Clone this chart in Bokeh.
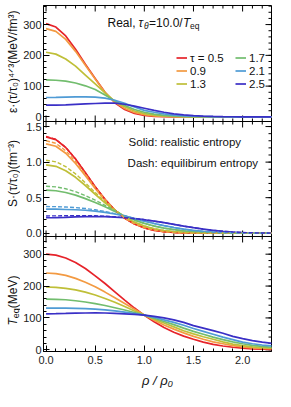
import math
from bokeh.plotting import figure
from bokeh.layouts import row
from bokeh.models import Range1d, FixedTicker, Label, Legend, LegendItem, Span
from bokeh.embed import file_html
from bokeh.resources import INLINE

# ---------------- data ----------------
rho = [0.0, 0.1, 0.2, 0.3, 0.4, 0.5, 0.6, 0.7, 0.8, 0.9, 1.0, 1.1,
       1.2, 1.3, 1.4, 1.5, 1.6, 1.7, 1.8, 1.9, 2.0, 2.1, 2.2, 2.3]
tau_labels = ["τ = 0.5", "0.9", "1.3", "1.7", "2.1", "2.5"]

# energy density * (tau/tau0)^(4/3)  [MeV/fm^3]
eps_05 = [303, 292, 263, 220, 171, 124.5, 80, 46, 24, 11, 4.5, 1.7, 0.6, 0.2, 0.05, 0, 0, 0, 0, 0, 0, 0, 0, 0]
eps_09 = [287, 278, 252, 213, 168, 123, 79, 48, 27, 14.5, 7, 3.2, 1.4, 0.6, 0.2, 0.1, 0, 0, 0, 0, 0, 0, 0, 0]
eps_13 = [210, 204, 188, 165, 136, 107, 78, 50, 33, 19, 10.5, 5.5, 2.8, 1.3, 0.6, 0.3, 0.1, 0, 0, 0, 0, 0, 0, 0]
eps_17 = [120, 119, 116, 110, 101, 89, 71, 52, 37, 24, 15, 9, 5, 3, 1.6, 0.8, 0.4, 0.2, 0.1, 0, 0, 0, 0, 0]
eps_21 = [63, 63.3, 64.2, 65, 65.2, 64, 61, 54, 44, 32, 21, 15, 9.5, 6, 3.6, 2.1, 1.2, 0.7, 0.4, 0.2, 0.1, 0, 0, 0]
eps_25 = [38, 38.3, 39, 40.5, 42, 43.5, 44.5, 44.5, 41, 35, 28, 21, 15, 10, 6.5, 4, 2.5, 1.5, 0.9, 0.5, 0.3, 0.2, 0.1, 0.05]

# entropy density * (tau/tau0), solid = realistic  [fm^-3]
s_05 = [1.355, 1.316, 1.206, 1.043, 0.851, 0.655, 0.476, 0.326, 0.211, 0.129, 0.074, 0.040, 0.021, 0.010, 0.0045, 0.002, 0.001, 0, 0, 0, 0, 0, 0, 0]
s_09 = [1.257, 1.223, 1.125, 0.980, 0.808, 0.630, 0.465, 0.325, 0.215, 0.1345, 0.079, 0.044, 0.0235, 0.0118, 0.0056, 0.0025, 0.001, 0, 0, 0, 0, 0, 0, 0]
s_13 = [0.962, 0.941, 0.879, 0.786, 0.671, 0.548, 0.428, 0.320, 0.228, 0.156, 0.102, 0.063, 0.038, 0.0216, 0.0118, 0.006, 0.003, 0.0015, 0.0007, 0, 0, 0, 0, 0]
s_17 = [0.605, 0.597, 0.573, 0.536, 0.487, 0.432, 0.372, 0.305, 0.240, 0.185, 0.138, 0.101, 0.072, 0.050, 0.034, 0.022, 0.014, 0.009, 0.0055, 0.003, 0.0018, 0.001, 0.0005, 0.0003]
s_21 = [0.338, 0.338, 0.334, 0.330, 0.323, 0.311, 0.293, 0.270, 0.245, 0.205, 0.170, 0.137, 0.107, 0.080, 0.057, 0.039, 0.026, 0.016, 0.010, 0.006, 0.003, 0.002, 0.001, 0.0005]
s_25 = [0.218, 0.220, 0.224, 0.230, 0.233, 0.235, 0.233, 0.227, 0.218, 0.206, 0.190, 0.170, 0.148, 0.124, 0.100, 0.078, 0.058, 0.041, 0.027, 0.017, 0.010, 0.006, 0.003, 0.002]

# dashed = equilibrium entropy
seq_05 = [1.36, 1.32, 1.209, 1.045, 0.852, 0.655, 0.476, 0.326, 0.211, 0.129, 0.074, 0.040, 0.021, 0.010, 0.0045, 0.002, 0.001, 0, 0, 0, 0, 0, 0, 0]
seq_09 = [1.30, 1.264, 1.160, 1.008, 0.828, 0.642, 0.471, 0.327, 0.215, 0.1345, 0.079, 0.044, 0.0235, 0.0118, 0.0056, 0.0025, 0.001, 0, 0, 0, 0, 0, 0, 0]
seq_13 = [1.027, 1.004, 0.937, 0.834, 0.708, 0.574, 0.444, 0.328, 0.232, 0.157, 0.102, 0.063, 0.038, 0.0216, 0.0118, 0.006, 0.003, 0.0015, 0.0007, 0, 0, 0, 0, 0]
seq_17 = [0.661, 0.652, 0.626, 0.584, 0.528, 0.464, 0.393, 0.317, 0.243, 0.186, 0.138, 0.101, 0.072, 0.050, 0.034, 0.022, 0.014, 0.009, 0.0055, 0.003, 0.0018, 0.001, 0.0005, 0.0003]
seq_21 = [0.375, 0.374, 0.369, 0.360, 0.348, 0.330, 0.305, 0.276, 0.246, 0.206, 0.170, 0.137, 0.107, 0.080, 0.057, 0.039, 0.026, 0.016, 0.010, 0.006, 0.003, 0.002, 0.001, 0.0005]
seq_25 = [0.243, 0.244, 0.246, 0.248, 0.247, 0.245, 0.240, 0.231, 0.219, 0.206, 0.190, 0.170, 0.148, 0.124, 0.100, 0.078, 0.058, 0.041, 0.027, 0.017, 0.010, 0.006, 0.003, 0.002]

# equivalent temperature [MeV]
T_05 = [300, 297, 288, 274, 255, 232, 208, 182, 156, 131, 108, 88, 70, 55, 43, 33, 24, 17, 12, 8, 5, 3, 2, 1.5]
T_09 = [241, 239, 233.5, 224, 212, 198, 181, 163, 145, 127, 109, 93, 78, 65, 53, 42, 33, 25, 19, 13, 9, 6, 4.5, 3.5]
T_13 = [197, 196, 193, 188, 181, 172, 161, 149, 136, 122, 109, 96, 84, 72, 60, 50, 41, 33, 25, 18, 13, 9, 7, 5]
T_17 = [159, 158.5, 157, 154, 150, 145, 139, 132, 125, 117, 109, 99, 89, 79, 68, 58, 49, 40, 32, 25, 19, 14, 11, 8]
T_21 = [131, 131, 130.5, 130, 129, 127.5, 125, 122, 118, 114, 109, 102, 94, 86, 77, 67, 58, 49, 40, 32, 24, 19, 15, 12]
T_25 = [113, 113.3, 114, 115, 115.5, 115.8, 115.5, 114.5, 113, 111, 109, 105, 100, 94, 86, 76, 68, 60, 52, 42, 35, 29, 24, 20]

x_ticks = [0.0, 0.5, 1.0, 1.5, 2.0]
x_tick_labels = ["0.0", "0.5", "1.0", "1.5", "2.0"]
eps_ticks = [0, 100, 200, 300]
eps_tick_labels = ["0", "100", "200", "300"]
s_ticks = [0.0, 0.5, 1.0, 1.5]
s_tick_labels = ["0.0", "0.5", "1.0", "1.5"]
T_ticks = [0, 100, 200, 300]
T_tick_labels = ["0", "100", "200", "300"]

eps_all = [eps_05, eps_09, eps_13, eps_17, eps_21, eps_25]
s_all = [s_05, s_09, s_13, s_17, s_21, s_25]
seq_all = [seq_05, seq_09, seq_13, seq_17, seq_21, seq_25]
T_all = [T_05, T_09, T_13, T_17, T_21, T_25]

# ---------------- style / layout ----------------
FONT = "Liberation Sans"
colors = ["#e6232a", "#f39a42", "#bfbf38", "#72bd6e", "#4f9bd5", "#3a2fc6"]
LW = 1.7

X0, X1 = -0.026, 2.294
# one frame, three stacked panels (116 + 115 + 115 px)
EPS_R = (-762.5, 362.0)      # panel 1 visible part: -15 .. 362
S_R = (-1.663, 3.2021)       # panel 2 visible part: -0.046 .. 1.571
T_R = (-5.3, 1080.2)         # panel 3 visible part: -5.3 .. 355.5
EPS_BOTTOM = -15.0
T_TOP = 355.5
TW = 20                      # width of the strip holding the y titles

p = figure(width=275 - TW, height=391, x_range=Range1d(X0, X1), y_range=Range1d(*T_R),
           output_backend="svg", toolbar_location=None,
           min_border_left=41 - TW, min_border_right=4, min_border_top=5, min_border_bottom=40)
p.extra_y_ranges = {"eps": Range1d(*EPS_R), "s": Range1d(*S_R)}
p.grid.visible = False
p.outline_line_color = "black"
p.outline_line_width = 1
p.background_fill_color = "white"
p.border_fill_color = "white"


def to_main(v, r):
    return round(T_R[0] + (v - r[0]) / (r[1] - r[0]) * (T_R[1] - T_R[0]), 4)


# left axis: ticks & labels for all three panels
left_major, overrides = [], {}
for ticks, labs, r in ((eps_ticks, eps_tick_labels, EPS_R), (s_ticks, s_tick_labels, S_R),
                       (T_ticks, T_tick_labels, T_R)):
    for tk, lab in zip(ticks, labs):
        m = to_main(tk, r)
        left_major.append(m)
        overrides[m] = lab
eps_minor = [i * 20 for i in range(19)]
s_minor = [i / 10 for i in range(16)]
T_minor = [i * 20 for i in range(18)]
left_minor = ([to_main(v, EPS_R) for v in eps_minor] + [to_main(v, S_R) for v in s_minor]
              + [to_main(v, T_R) for v in T_minor])

ya = p.yaxis[0]
ya.ticker = FixedTicker(ticks=left_major, minor_ticks=left_minor)
ya.major_label_overrides = overrides
for ax in (p.yaxis[0], p.xaxis[0]):
    ax.major_tick_in = 6
    ax.major_tick_out = 0
    ax.minor_tick_in = 3
    ax.minor_tick_out = 0
    ax.axis_line_color = "black"
    ax.major_tick_line_color = "black"
    ax.minor_tick_line_color = "black"
    ax.major_label_text_font = FONT
    ax.major_label_text_color = "#222222"
    ax.major_label_standoff = 4
ya.major_label_text_font_size = "11px"
ya.major_label_standoff = 2

x_minor = [i / 10 for i in range(0, 24)]
xa = p.xaxis[0]
xa.ticker = FixedTicker(ticks=x_ticks, minor_ticks=x_minor)
xa.major_label_overrides = dict(zip(x_ticks, x_tick_labels))
xa.major_label_text_font_size = "11px"
xa.axis_label = "ρ / ρ₀"
xa.axis_label_text_font = FONT
xa.axis_label_text_font_size = "13px"
xa.axis_label_text_font_style = "italic"
xa.axis_label_text_color = "#111111"
xa.axis_label_standoff = 6

# panel separators
p.add_layout(Span(location=EPS_BOTTOM, dimension="width", y_range_name="eps",
                  line_color="black", line_width=1))
p.add_layout(Span(location=T_TOP, dimension="width", line_color="black", line_width=1))


def rays(xs, ys, length, angle, rname="default"):
    p.ray(x=xs, y=ys, length=length, length_units="screen", angle=angle,
          line_color="black", line_width=1, y_range_name=rname)


# x ticks on top edge and on both panel separators
xmin_only = [v for v in x_minor if v not in x_ticks]
rays(x_ticks, [T_R[1]] * len(x_ticks), 6, -math.pi / 2)
rays(xmin_only, [T_R[1]] * len(xmin_only), 3, -math.pi / 2)
for yy, rn in ((EPS_BOTTOM, "eps"), (T_TOP, "default")):
    for ang in (math.pi / 2, -math.pi / 2):
        rays(x_ticks, [yy] * len(x_ticks), 6, ang, rn)
        rays(xmin_only, [yy] * len(xmin_only), 3, ang, rn)
# y ticks on right edge
for ticks, minor, rn in ((eps_ticks, eps_minor, "eps"), (s_ticks, s_minor, "s"),
                         (T_ticks, T_minor, "default")):
    rays([X1] * len(ticks), ticks, 6, math.pi, rn)
    rays([X1] * len(minor), minor, 3, math.pi, rn)


def txt(fig, x, y, s, size="12px", style="normal", xo=0, yo=0, angle=0.0,
        rname="default", align="left"):
    fig.add_layout(Label(x=x, y=y, text=s, text_font=FONT, text_font_size=size,
                         text_font_style=style, x_offset=xo, y_offset=yo,
                         text_color="#111111", text_baseline="alphabetic",
                         text_align=align, angle=angle, y_range_name=rname))


# ---------- panel 1: energy density ----------
rs = [p.line(rho, ys, line_color=c, line_width=LW, y_range_name="eps")
      for ys, c in zip(eps_all, colors)]

legs = [Legend(items=[LegendItem(label=tau_labels[i], renderers=[rs[i]]) for i in range(3)],
               location=(133, 261)),
        Legend(items=[LegendItem(label=tau_labels[i], renderers=[rs[i]]) for i in range(3, 6)],
               location=(192, 261))]
for lg in legs:
    lg.padding = 0
    lg.margin = 0
    lg.spacing = 0
    lg.border_line_alpha = 0
    lg.background_fill_alpha = 0
    lg.glyph_width = 11
    lg.glyph_height = 13
    lg.label_height = 13
    lg.label_standoff = 3
    lg.label_text_font = FONT
    lg.label_text_font_size = "11.5px"
    lg.label_text_color = "#111111"
    p.add_layout(lg)

ax0, ay0 = 0.625, 306
txt(p, ax0, ay0, "Real, ", rname="eps")
txt(p, ax0, ay0, "τ", style="italic", xo=31, rname="eps")
txt(p, ax0, ay0, "θ", size="8.5px", style="italic", xo=36.5, yo=-3, rname="eps")
txt(p, ax0, ay0, "=10.0/", xo=41.5, rname="eps")
txt(p, ax0, ay0, "T", style="italic", xo=75.5, rname="eps")
txt(p, ax0, ay0, "eq", size="8.5px", xo=82.5, yo=-3, rname="eps")

# ---------- panel 2: entropy density ----------
for ys, c in zip(s_all, colors):
    p.line(rho, ys, line_color=c, line_width=LW, y_range_name="s")
for ys, c in zip(seq_all, colors):
    p.line(rho, ys, line_color=c, line_width=1.4, line_dash="4 2", y_range_name="s")
txt(p, 0.84, 1.276, "Solid: realistic entropy", size="11.5px", rname="s")
txt(p, 0.83, 0.994, "Dash: equilibirum entropy", size="11.5px", rname="s")

# ---------- panel 3: temperature ----------
for ys, c in zip(T_all, colors):
    p.line(rho, ys, line_color=c, line_width=LW)

# ---------- strip with rotated y titles (same vertical frame) ----------
t = figure(width=TW, height=391, x_range=Range1d(0, TW), y_range=Range1d(*T_R),
           output_backend="svg", toolbar_location=None,
           x_axis_location=None, y_axis_location=None,
           min_border_left=0, min_border_right=0, min_border_top=5, min_border_bottom=40)
t.extra_y_ranges = {"eps": Range1d(*EPS_R), "s": Range1d(*S_R)}
t.grid.visible = False
t.outline_line_color = None
t.background_fill_color = "white"
t.border_fill_color = "white"

LX = 12.5
UP = math.pi / 2
txt(t, LX, 179, "ε·(τ/τ₀)⁴ᐟ³(MeV/fm³)", size="12px", angle=UP, rname="eps", align="center")
txt(t, LX, 0.84, "S·(τ/τ₀)(fm⁻³)", size="12px", angle=UP, rname="s", align="center")
txt(t, LX, 76, "T", size="12px", style="italic", angle=UP)
txt(t, LX, 99, "eq", size="9px", xo=3, angle=UP)
txt(t, LX, 130.5, "(MeV)", size="12px", angle=UP)

layout = row(t, p, spacing=0)
open("out.html", "w").write(file_html(layout, INLINE))
